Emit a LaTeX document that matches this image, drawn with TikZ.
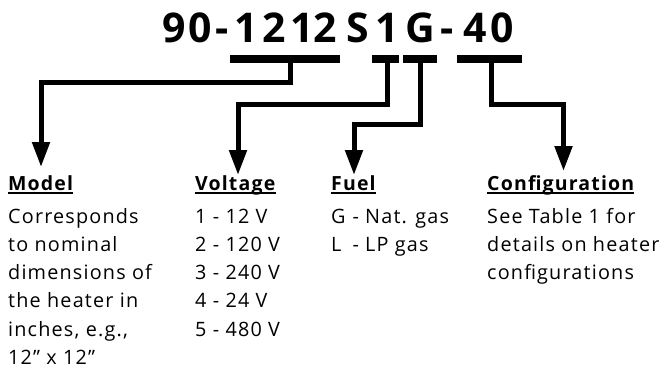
\documentclass[tikz,border=0pt]{standalone}
\usepackage{fontspec}
\setmainfont{Open Sans}[LetterSpace=6]
\newfontfamily\titlefont{Open Sans}
\usetikzlibrary{arrows.meta}
\begin{document}
\begin{tikzpicture}[x=1pt,y=-1pt,
  bar/.style={fill=black, inner sep=0, minimum height=7.5pt},
  conn/.style={line width=5pt, line join=miter, -{Triangle[width=17pt,length=25pt]}},
  head/.style={anchor=base west, inner sep=0, font=\fontsize{19.5}{20}\selectfont\bfseries},
  body/.style={anchor=base west, inner sep=0, font=\fontsize{19.8}{20}\selectfont},
  ttl/.style={anchor=base, inner sep=0, font=\titlefont\fontsize{41}{44}\selectfont\bfseries},
  uline/.style={line width=1.6pt}]
\useasboundingbox (0,0) rectangle (666,372);
% title
\node[ttl] (t1) at (174.5,42) {9};
\node[ttl] (t2) at (200.5,42) {0};
\node[ttl] (t3) at (222.5,42) {-};
\node[ttl] (t4) at (246,42) {1};
\node[ttl] (t5) at (274.5,42) {2};
\node[ttl] (t6) at (302,42) {1};
\node[ttl] (t7) at (325.5,42) {2};
\node[ttl] (t8) at (357.5,42) {S};
\node[ttl] (t9) at (387.5,42) {1};
\node[ttl] (t10) at (420,42) {G};
\node[ttl] (t11) at (447.5,42) {-};
\node[ttl] (t12) at (475,42) {4};
\node[ttl] (t13) at (502.5,42) {0};
% bars
\node[bar, minimum width=110pt] (b1) at (285,59) {};
\node[bar, minimum width=27pt] (b2) at (385,59) {};
\node[bar, minimum width=34pt] (b3) at (420,59) {};
\node[bar, minimum width=65pt] (b4) at (489.5,59) {};
% headings
\node[head] (hm) at (8,190) {Model};
\node[head] (hv) at (195,190) {Voltage};
\node[head] (hf) at (331,190) {Fuel};
\node[head] (hc) at (487,190) {Configuration};
\foreach \h in {hm,hv,hf,hc}
  \draw[uline] ([yshift=-3pt]\h.base west) -- ([yshift=-3pt]\h.base east);
% arrow targets
\coordinate (am) at (41,167);
\coordinate (av) at (238,175);
\coordinate (af) at (354,175);
\coordinate (ac) at (563.5,171);
% connectors
\draw[conn] (b1.center -| 290,0) -- (290,82.5) -| (am);
\draw[conn] (b2.center -| 387.5,0) -- (387.5,104.5) -| (av);
\draw[conn] (b3.center) -- (420,124.5) -| (af);
\draw[conn] (b4.center -| 491,0) -- (491,104.5) -| (ac);
% body texts
\node[body] (m1) at (8,223) {Corresponds};
\node[body] (m2) at (8,251.3) {to nominal};
\node[body] (m3) at (8,279.6) {dimensions of};
\node[body] (m4) at (8,307.9) {the heater in};
\node[body] (m5) at (8,336.2) {inches, e.g.,};
\node[body] (m6) at (8,364.5) {12” x 12”};
\node[body] (v1) at (195,223) {1 - 12 V};
\node[body] (v2) at (195,251.3) {2 - 120 V};
\node[body] (v3) at (195,279.6) {3 - 240 V};
\node[body] (v4) at (195,307.9) {4 - 24 V};
\node[body] (v5) at (195,336.2) {5 - 480 V};
\node[body] (f1) at (331,223) {\makebox[15pt][l]{G} - Nat. gas};
\node[body] (f2) at (331,251.3) {\makebox[15pt][l]{L} - LP gas};
\node[body] (c1) at (487,223) {See Table 1 for};
\node[body] (c2) at (487,251.3) {details on heater};
\node[body] (c3) at (487,279.6) {configurations};
\end{tikzpicture}
\end{document}
